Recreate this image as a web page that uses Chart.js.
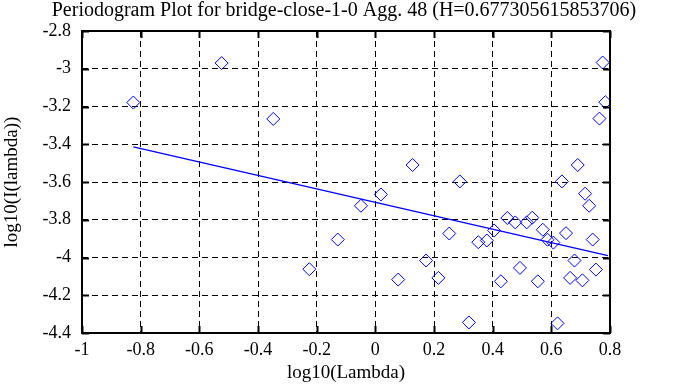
<!DOCTYPE html>
<html>
<head>
<meta charset="utf-8">
<script src="https://cdn.jsdelivr.net/npm/chart.js@4.4.0/dist/chart.umd.min.js"></script>
<style>
html,body{margin:0;padding:0;background:#fff;}
#wrap{width:688px;height:387px;position:relative;}
</style>
</head>
<body>
<div id="wrap"><canvas id="c"></canvas></div>
<script>
// Data
const lambdaLog = [-0.825,-0.524,-0.348,-0.225,-0.128,-0.049,0.019,0.078,0.127,0.173,0.215,0.252,0.288,0.319,0.351,0.380,0.405,0.428,0.450,0.477,0.493,0.516,0.535,0.554,0.571,0.587,0.607,0.621,0.636,0.650,0.664,0.679,0.690,0.706,0.715,0.729,0.741,0.752,0.764,0.775,0.784];
const periodLog = [-3.179,-2.970,-3.266,-4.062,-3.905,-3.726,-3.666,-4.117,-3.510,-4.016,-4.108,-3.873,-3.597,-4.344,-3.919,-3.910,-3.857,-4.126,-3.791,-3.814,-4.055,-3.814,-3.789,-4.126,-3.853,-3.906,-3.921,-4.349,-3.597,-3.871,-4.108,-4.016,-3.510,-4.121,-3.662,-3.726,-3.905,-4.064,-3.264,-2.967,-3.177];
const fitX = [-0.825, 0.793];
const fitY = [-3.414, -3.990];
const xTicks = [-1,-0.8,-0.6,-0.4,-0.2,0,0.2,0.4,0.6,0.8];
const xTickLabels = ['-1','-0.8','-0.6','-0.4','-0.2','0','0.2','0.4','0.6','0.8'];
const yTicks = [-2.8,-3,-3.2,-3.4,-3.6,-3.8,-4,-4.2,-4.4];
const yTickLabels = ['-2.8','-3','-3.2','-3.4','-3.6','-3.8','-4','-4.2','-4.4'];
const titleText = 'Periodogram Plot for bridge-close-1-0 Agg. 48 (H=0.677305615853706)';

const FONT = "'Liberation Serif', 'DejaVu Serif', serif";
Chart.defaults.font.family = FONT;
Chart.defaults.color = '#000';

const framePlugin = {
  id: 'frame',
  beforeDraw(chart) {
    const ctx = chart.ctx;
    ctx.save();
    ctx.fillStyle = '#fff';
    ctx.fillRect(0, 0, chart.width, chart.height);
    ctx.restore();
  },
  afterDraw(chart) {
    const ctx = chart.ctx;
    const a = chart.chartArea;
    const xs = chart.scales.x, ys = chart.scales.y;
    ctx.save();
    ctx.strokeStyle = '#000';
    ctx.lineWidth = 2;
    ctx.setLineDash([]);
    ctx.strokeRect(a.left, a.top, a.right - a.left, a.bottom - a.top);
    const L = 7;
    ctx.beginPath();
    xTicks.forEach(v => {
      const px = Math.round(xs.getPixelForValue(v)) + 0.5;
      ctx.moveTo(px, a.bottom); ctx.lineTo(px, a.bottom - L);
      ctx.moveTo(px, a.top); ctx.lineTo(px, a.top + L);
    });
    yTicks.forEach(v => {
      const py = Math.round(ys.getPixelForValue(v)) + 0.5;
      ctx.moveTo(a.left, py); ctx.lineTo(a.left + L, py);
      ctx.moveTo(a.right, py); ctx.lineTo(a.right - L, py);
    });
    ctx.stroke();
    ctx.restore();
  }
};

new Chart(document.getElementById('c'), {
  type: 'scatter',
  data: {
    datasets: [
      {
        data: lambdaLog.map((x, i) => ({x, y: periodLog[i]})),
        pointStyle: 'rectRot',
        radius: 6.5,
        hoverRadius: 6.5,
        borderColor: '#0000ff',
        backgroundColor: 'rgba(0,0,0,0)',
        borderWidth: 1
      },
      {
        type: 'line',
        data: fitX.map((x, i) => ({x, y: fitY[i]})),
        borderColor: '#0000ff',
        borderWidth: 1.5,
        pointRadius: 0,
        fill: false,
        tension: 0
      }
    ]
  },
  options: {
    responsive: true,
    maintainAspectRatio: false,
    animation: false,
    layout: {padding: 0},
    plugins: {
      legend: {display: false},
      tooltip: {enabled: false},
      title: {
        display: true,
        text: titleText,
        color: '#000',
        font: {family: FONT, size: 20, weight: 'normal', lineHeight: 1.0},
        padding: {top: 0.5, bottom: 10.5}
      }
    },
    scales: {
      x: {
        type: 'linear',
        min: -1, max: 0.8,
        afterBuildTicks: s => { s.ticks = xTicks.map(v => ({value: v})); },
        afterFit: s => { s.height = 54; },
        ticks: {
          color: '#000',
          font: {family: FONT, size: 18},
          padding: 6,
          autoSkip: false,
          maxRotation: 0,
          callback: (v) => xTickLabels[xTicks.indexOf(v)]
        },
        grid: {color: '#000', lineWidth: 1, drawTicks: false},
        border: {display: false, dash: [6, 4]},
        title: {
          display: true, text: 'log10(Lambda)', color: '#000',
          font: {family: FONT, size: 19}, padding: {top: 0, bottom: 3}
        }
      },
      y: {
        type: 'linear',
        min: -4.4, max: -2.8,
        afterBuildTicks: s => { s.ticks = yTicks.map(v => ({value: v})); },
        afterFit: s => { s.width = 82; },
        ticks: {
          color: '#000',
          font: {family: FONT, size: 18},
          padding: 11,
          autoSkip: false,
          callback: (v) => yTickLabels[yTicks.indexOf(v)]
        },
        grid: {color: '#000', lineWidth: 1, drawTicks: false},
        border: {display: false, dash: [6, 4]},
        title: {
          display: true, text: 'log10(I(lambda))', color: '#000',
          font: {family: FONT, size: 19}, padding: {top: 1, bottom: 0}
        }
      },
      yRight: {
        type: 'linear',
        position: 'right',
        min: -4.4, max: -2.8,
        afterFit: s => { s.width = 78; },
        ticks: {display: false},
        grid: {display: false, drawTicks: false},
        border: {display: false}
      }
    }
  },
  plugins: [framePlugin]
});
</script>
</body>
</html>
